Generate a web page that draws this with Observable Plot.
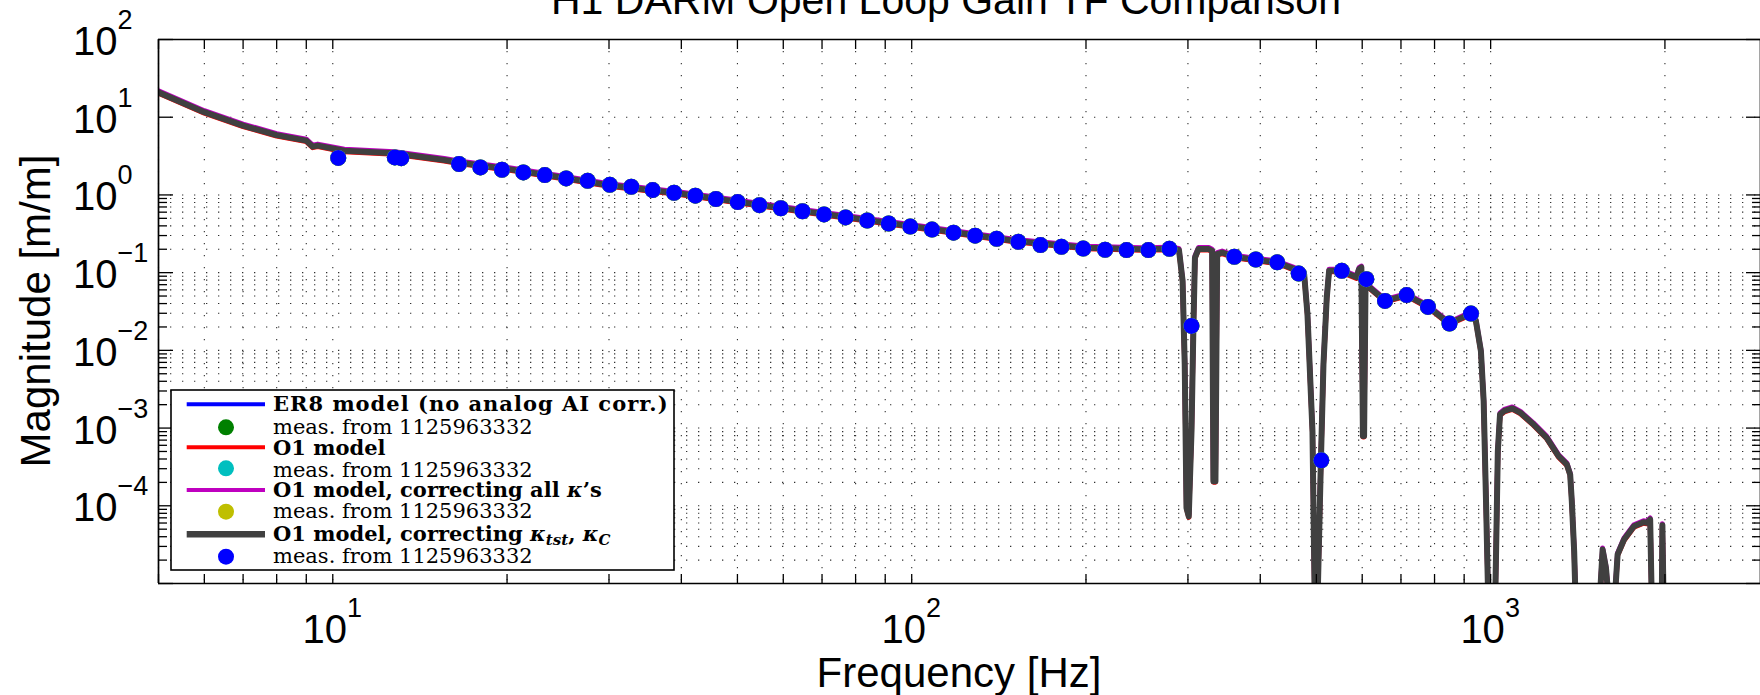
<!DOCTYPE html>
<html>
<head>
<meta charset="utf-8">
<script src="https://cdn.jsdelivr.net/npm/d3@7"></script>
<script src="https://cdn.jsdelivr.net/npm/@observablehq/plot@0.6"></script>
<style>
html, body { margin: 0; padding: 0; background: #fff; overflow: hidden; }
</style>
</head>
<body>
<div id="chart"></div>
<script>
// ---------- data ----------
const modelFreq = [5.0, 6.0, 7.0, 8.0, 9.0, 9.23, 9.42, 10.47, 12.78, 15.58, 16.5, 20, 25, 30, 40, 50, 70, 100, 150, 200, 250, 280, 289.5,
  293.7, 296.2, 298.3, 301.0, 304.3, 306.5, 308.5, 312.8, 325.9, 330.3, 332.0, 334.7, 337.0, 343.7, 360.8, 393.4, 427.7, 458.3, 476.3,
  482.6, 492.3, 496.9, 502.1, 508.9, 514.3, 521.1, 526.0, 550.2, 586.5, 592.5, 598.0, 601.7, 604.5, 608.0, 657.5, 716.0, 780.8, 848.3,
  924.7, 943, 962, 972.6, 981.8, 991, 1018, 1029, 1038, 1055.5, 1090, 1126, 1185, 1250, 1310, 1354, 1372, 1381, 1394, 1403, 1541,
  1561, 1582, 1603, 1635, 1657, 1700, 1768, 1837, 1862, 1886, 1899, 1975, 1980, 1990, 2900];
const modelMag = [20.9, 11.6, 7.80, 5.88, 5.0, 4.18, 4.31, 3.71, 3.43, 2.82, 2.62, 2.16, 1.665, 1.334, 1.036, 0.817, 0.572, 0.395, 0.257, 0.209, 0.1996, 0.2026, 0.1957,
  0.0784, 0.00662, 9.4e-5, 7.3e-5, 9.15e-4, 0.0178, 0.1565, 0.201, 0.201, 0.191, 2.07e-4, 2.07e-4, 0.173, 0.1815, 0.160, 0.146, 0.135, 0.111, 0.0957,
  0.0292, 9.15e-4, 5e-6, 5e-6, 3.4e-4, 6.6e-3, 0.0477, 0.1055, 0.1055, 0.087, 0.111, 0.1164, 7.9e-4, 7.9e-4, 0.0711, 0.0433, 0.0513, 0.0362, 0.0221,
  0.0297, 0.0239, 9.8e-3, 2.23e-3, 1.15e-4, 5e-6, 5e-6, 5.06e-4, 1.50e-3, 1.66e-3, 1.79e-3, 1.57e-3, 1.12e-3, 7.5e-4, 4.35e-4, 3.4e-4, 2.53e-4, 1.15e-4, 2.6e-5, 5e-6, 5e-6,
  2.73e-5, 1.58e-5, 5e-6, 5e-6, 2.36e-5, 3.68e-5, 5.46e-5, 6.15e-5, 6.03e-5, 6.66e-5, 5e-6, 5e-6, 5.62e-5, 5e-6, 5e-6];

const measFreq = [10.22, 12.80, 13.13, 16.52, 17.99, 19.60, 21.34, 23.24, 25.30, 27.56, 30.10, 32.78, 35.69, 38.86, 42.30, 45.90,
  50.05, 54.56, 59.42, 64.77, 70.56, 76.88, 83.79, 91.26, 99.45, 108.4, 118.1, 128.7, 140.2, 152.8, 166.9, 181.4, 197.8, 215.8,
  235.0, 256.3, 278.7, 304.2, 360.8, 393.0, 427.9, 466.1, 509.9, 553.2, 609.9, 656.9, 716.0, 779.3, 849.0, 924.7];
const measMag = [2.99, 3.04, 2.97, 2.50, 2.26, 2.11, 1.95, 1.80, 1.63, 1.52, 1.35, 1.275, 1.156, 1.067, 0.977, 0.886,
  0.808, 0.739, 0.674, 0.617, 0.562, 0.514, 0.469, 0.429, 0.392, 0.358, 0.327, 0.299, 0.273, 0.249, 0.226, 0.215, 0.204, 0.197,
  0.195, 0.195, 0.2025, 0.0206, 0.160, 0.1475, 0.1357, 0.0974, 3.84e-4, 0.1055, 0.0825, 0.0433, 0.0514, 0.0362, 0.0221, 0.0297];

const seriesNames = ["ER8 model (no analog AI corr.)", "O1 model", "O1 model, correcting all κ's", "O1 model, correcting κtst, κC"];
const seriesLineColors = ["#0000ff", "#ff0000", "#bf00bf", "#404040"];
const seriesDotColors = ["#008000", "#00bfbf", "#bfbf00", "#0000ff"];
const measLabel = "meas. from 1125963332";

const xMajorTicks = [10, 100, 1000];
const xMinorTicks = [5, 6, 7, 8, 9, 20, 30, 40, 50, 60, 70, 80, 90, 200, 300, 400, 500, 600, 700, 800, 900, 2000];
const yMajorTicks = [1e-5, 1e-4, 1e-3, 1e-2, 1e-1, 1, 10, 100];
const xDomain = [5, 2925];
const yDomain = [1e-5, 100];

const titleText = "H1 DARM Open Loop Gain TF Comparison";
const xLabel = "Frequency [Hz]";
const yLabel = "Magnitude [m/m]";

// minor y ticks only for the decades below 10^0 (as in the reference)
const yMinorTicks = [];
for (let e = -5; e <= -1; e++) for (let k = 2; k <= 9; k++) yMinorTicks.push(k * Math.pow(10, e));

const model = modelFreq.map((f, i) => ({f, m: modelMag[i]}));
const meas = measFreq.map((f, i) => ({f, m: measMag[i]}));

const gridStyle = {stroke: "#303030", strokeWidth: 1.1, strokeDasharray: "1.3,10.7"};
const tickStyle = {stroke: "black", strokeWidth: 1.3, tickFormat: () => "", label: null};

const chart = Plot.plot({
  width: 1760,
  height: 695,
  marginLeft: 158,
  marginRight: 0,
  marginTop: 39,
  marginBottom: 112,
  style: {background: "white"},
  x: {type: "log", domain: xDomain},
  y: {type: "log", domain: yDomain},
  marks: [
    Plot.ruleX([...xMajorTicks, ...xMinorTicks], gridStyle),
    Plot.ruleY([...yMajorTicks.slice(1, -1), ...yMinorTicks], gridStyle),
    Plot.line(model, {x: "f", y: "m", stroke: seriesLineColors[0], strokeWidth: 4, clip: true, strokeLinejoin: "round"}),
    Plot.line(model, {x: "f", y: "m", stroke: seriesLineColors[1], strokeWidth: 5, dy: 1, clip: true, strokeLinejoin: "round"}),
    Plot.line(model, {x: "f", y: "m", stroke: seriesLineColors[2], strokeWidth: 5, dy: -1.5, clip: true, strokeLinejoin: "round"}),
    Plot.line(model, {x: "f", y: "m", stroke: seriesLineColors[3], strokeWidth: 6, clip: true, strokeLinejoin: "round"}),
    Plot.dot(meas, {x: "f", y: "m", r: 8, fill: seriesDotColors[0]}),
    Plot.dot(meas, {x: "f", y: "m", r: 8, fill: seriesDotColors[1]}),
    Plot.dot(meas, {x: "f", y: "m", r: 8, fill: seriesDotColors[2]}),
    Plot.dot(meas, {x: "f", y: "m", r: 8, fill: seriesDotColors[3]}),
    // inward ticks on all four sides
    Plot.axisX([...xMajorTicks, ...xMinorTicks], {anchor: "bottom", tickSize: 9, dy: -9, ...tickStyle}),
    Plot.axisX([...xMajorTicks, ...xMinorTicks], {anchor: "top", tickSize: 9, dy: 9, ...tickStyle}),
    Plot.axisY(yMajorTicks, {anchor: "left", tickSize: 15, dx: 15, ...tickStyle}),
    Plot.axisY(yMinorTicks, {anchor: "left", tickSize: 9, dx: 9, ...tickStyle}),
    Plot.axisY(yMajorTicks, {anchor: "right", tickSize: 15, dx: -15, ...tickStyle}),
    Plot.axisY(yMinorTicks, {anchor: "right", tickSize: 9, dx: -9, ...tickStyle}),
    // frame
    Plot.ruleY([yDomain[0], yDomain[1]], {stroke: "black", strokeWidth: 1.7}),
    Plot.ruleX([xDomain[0], xDomain[1]], {stroke: "black", strokeWidth: 1.7})
  ]
});
document.getElementById("chart").appendChild(chart);

// ---------- text: tick labels, axis labels, title ----------
const sx = chart.scale("x"), sy = chart.scale("y");
const svg = d3.select(chart);
const sans = "'Liberation Sans', Arial, Helvetica, sans-serif";
const g = svg.append("g").attr("font-family", sans).attr("fill", "black");
const expText = v => { const e = Math.round(Math.log10(v)); return e < 0 ? "\u2212" + (-e) : String(e); };

xMajorTicks.forEach(v => {
  const t = g.append("text").attr("x", sx.apply(v)).attr("y", 643).attr("text-anchor", "middle").attr("font-size", 40);
  t.append("tspan").text("10");
  t.append("tspan").attr("font-size", 27).attr("dy", -26).text(expText(v));
});
yMajorTicks.slice(1).forEach(v => {
  const yy = sy.apply(v);
  const t = g.append("text").attr("x", 73).attr("y", yy + 16).attr("text-anchor", "start").attr("font-size", 40);
  t.append("tspan").text("10");
  t.append("tspan").attr("font-size", 27).attr("dy", -26).text(expText(v));
});
g.append("text").attr("x", 959).attr("y", 687).attr("text-anchor", "middle").attr("font-size", 42).text(xLabel);
g.append("text").attr("transform", "translate(50,311) rotate(-90)").attr("text-anchor", "middle").attr("font-size", 42).text(yLabel);
g.append("text").attr("x", 946).attr("y", 14).attr("text-anchor", "middle").attr("font-size", 41).text(titleText);

// ---------- legend ----------
const serif = "'DejaVu Serif', 'Liberation Serif', serif";
const L = svg.append("g").attr("font-family", serif).attr("fill", "black").attr("text-anchor", "start");
L.append("rect").attr("x", 171).attr("y", 390).attr("width", 503).attr("height", 180)
  .attr("fill", "white").attr("stroke", "black").attr("stroke-width", 1.6);
const symY = [404.3, 427.3, 447.3, 468.3, 490, 511.7, 534.3, 556.7];
const baseY = [411, 434.3, 455, 476.7, 496.7, 518, 540.7, 563.3];
const fs = 21;
function addKappaText(sel, name) {
  // render κ as math italic, with optional subscripts
  if (name.endsWith("κtst, κC")) {
    sel.append("tspan").text(name.replace("κtst, κC", ""));
    sel.append("tspan").attr("font-style", "italic").text("κ");
    sel.append("tspan").attr("font-style", "italic").attr("font-size", 15).attr("dy", 4).text("tst");
    sel.append("tspan").attr("dy", -4).text(", ");
    sel.append("tspan").attr("font-style", "italic").text("κ");
    sel.append("tspan").attr("font-style", "italic").attr("font-size", 15).attr("dy", 4).text("C");
  } else if (name.includes("κ's")) {
    sel.append("tspan").text(name.replace("κ's", ""));
    sel.append("tspan").attr("font-style", "italic").text("κ");
    sel.append("tspan").text("\u2019s");
  } else {
    sel.text(name);
  }
}
seriesNames.forEach((name, i) => {
  const r1 = 2 * i, r2 = 2 * i + 1;
  L.append("line").attr("x1", 186.7).attr("x2", 265).attr("y1", symY[r1]).attr("y2", symY[r1])
    .attr("stroke", seriesLineColors[i]).attr("stroke-width", i === 3 ? 6.5 : 4);
  const t1 = L.append("text").attr("x", 273).attr("y", baseY[r1]).attr("text-anchor", "start").attr("font-size", fs).attr("font-weight", "bold");
  if (i === 0) t1.attr("letter-spacing", 1);
  addKappaText(t1, name);
  L.append("circle").attr("cx", 226).attr("cy", symY[r2]).attr("r", 8).attr("fill", seriesDotColors[i]);
  L.append("text").attr("x", 273).attr("y", baseY[r2]).attr("text-anchor", "start").attr("font-size", fs).text(measLabel);
});
</script>
</body>
</html>
